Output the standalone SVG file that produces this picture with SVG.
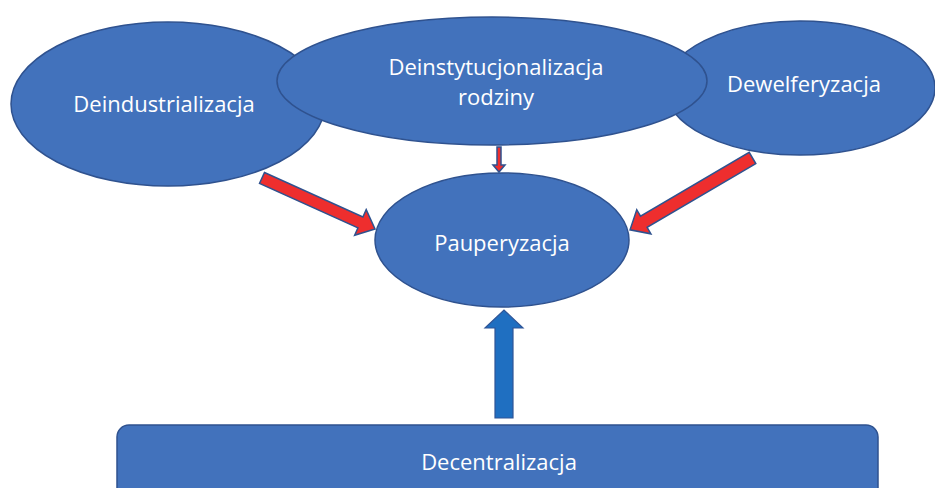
<svg xmlns="http://www.w3.org/2000/svg" width="935" height="488" viewBox="0 0 935 488">
<style>
.node{fill:#4272BC;stroke:#2F528F;stroke-width:1.5}
.lbl{fill:#FFFFFF;font-family:"Open Sans","Liberation Sans",sans-serif;font-size:22px;text-anchor:middle}
.red{fill:#EE2E2E;stroke:#2F528F;stroke-width:1.5;stroke-linejoin:miter}
.blue{fill:#1F6FC1;stroke:#2F5597;stroke-width:1.2}
</style>
<rect width="935" height="488" fill="#FFFFFF"/>
<g id="deindustrializacja">
<ellipse class="node" cx="168" cy="104" rx="157" ry="82"/>
<text class="lbl" x="164" y="112">Deindustrializacja</text>
</g>
<g id="dewelferyzacja">
<ellipse class="node" cx="800" cy="88" rx="135" ry="67"/>
<text class="lbl" x="804" y="92">Dewelferyzacja</text>
</g>
<g id="deinstytucjonalizacja">
<ellipse class="node" cx="492" cy="81" rx="215" ry="64"/>
<text class="lbl" x="496" y="75">Deinstytucjonalizacja</text>
<text class="lbl" x="496" y="105">rodziny</text>
</g>
<g id="pauperyzacja">
<ellipse class="node" cx="502" cy="240" rx="127" ry="67"/>
<text class="lbl" x="502" y="251">Pauperyzacja</text>
</g>
<g id="decentralizacja">
<rect class="node" x="117" y="425" width="761" height="80" rx="12" ry="12"/>
<text class="lbl" x="499" y="470">Decentralizacja</text>
</g>
<g id="connectors">
<polygon class="red" transform="translate(262,178) rotate(24.3)" points="0,-6 108,-6 108,-14 124,0 108,14 108,6 0,6"/>
<polygon class="red" transform="translate(752.5,158) rotate(149.6)" points="0,-6.5 126,-6.5 126,-14 142,0 126,14 126,6.5 0,6.5"/>
<polygon class="red" points="497,147 501,147 501,165 505,165 499,172 493,165 497,165"/>
<polygon class="blue" points="495,418 495,328 485,328 504,310 523,328 513,328 513,418"/>
</g>
</svg>
